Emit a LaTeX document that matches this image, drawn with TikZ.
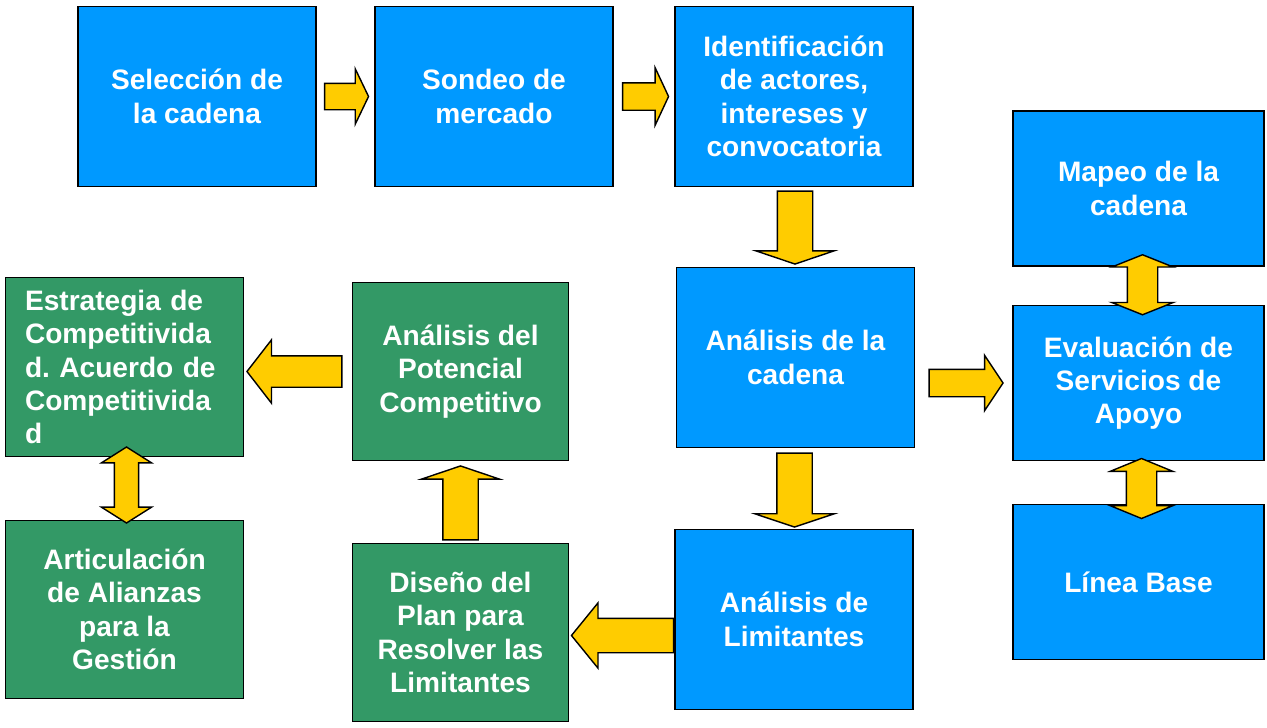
\documentclass[tikz,border=0pt]{standalone}
\usepackage{fontspec}
\setmainfont{Liberation Sans}
\usepackage{tikz}
\usetikzlibrary{calc}
\usetikzlibrary{shapes}
\usetikzlibrary{shapes.arrows}

\definecolor{boxblue}{HTML}{0099FF}
\definecolor{boxgreen}{HTML}{339966}
\definecolor{arrowyellow}{HTML}{FFCC00}

\begin{document}
\begin{tikzpicture}[x=0.02cm, y=-0.02cm,
        node_style/.style={rectangle,draw=black,line width=1pt,text=white,align=center,inner sep=0pt,font=\fontsize{16}{19}\selectfont\bfseries},
        blue_node_style/.style={node_style,fill=boxblue,minimum width=4.76cm,minimum height=3.6cm},
        wide_node_style/.style={node_style,fill=boxblue,minimum width=5.02cm,minimum height=3.1cm},
        green_node_style/.style={node_style,fill=boxgreen,minimum width=4.32cm,minimum height=3.56cm},
        arrow_style/.style n args={4}{single arrow,draw=black,fill=arrowyellow,line width=0.8pt,inner xsep=0pt,inner ysep=#2,text height=0pt,text depth=0pt,minimum width=0pt,minimum height=#1,single arrow head extend=#3,single arrow tip angle=#4,anchor=tail},
        double_arrow_style/.style n args={4}{double arrow,draw=black,fill=arrowyellow,line width=0.8pt,inner xsep=0pt,inner ysep=#2,text height=0pt,text depth=0pt,minimum width=0pt,minimum height=#1,double arrow head extend=#3,double arrow tip angle=#4,rotate=90}]

        \useasboundingbox (0,0) rectangle (1267,727);

        \node [blue_node_style](n1) at (197,96.5) {Selección de\\la cadena};

        \node [blue_node_style](n2) at (494,96.5) {Sondeo de\\mercado};

        \node [blue_node_style](n3) at (794,96.5) {Identificación\\de actores,\\intereses y\\convocatoria};

        \node [wide_node_style](n4) at (1138.5,188.5) {Mapeo de la\\cadena};

        \node [blue_node_style](n5) at (795.5,357.5) {Análisis de la\\cadena};

        \node [wide_node_style](n6) at (1138.5,383) {Evaluación de\\Servicios de\\Apoyo};

        \node [wide_node_style](n7) at (1138.5,582) {Línea Base};

        \node [blue_node_style](n8) at (794,619.5) {Análisis de\\Limitantes};

        \node [green_node_style](n9) at (460.5,632.5) {Diseño del\\Plan para\\Resolver las\\Limitantes};

        \node [green_node_style](n10) at (460.5,371.5) {Análisis del\\Potencial\\Competitivo};

        \node [green_node_style,minimum width=4.76cm,minimum height=3.58cm,text width=3.98cm,align=left](n11) at (124.5,367) {Estrategia de\\Competitivida\\d.\ Acuerdo de\\Competitivida\\d};

        \node [green_node_style,minimum width=4.76cm](n12) at (124.5,609.5) {Articulación\\de Alianzas\\para la\\Gestión};

        \node [arrow_style={0.88cm}{0.25cm}{0.29cm}{128.6}](a1) at ($(n1.east)+(7,0)$) {};

        \node [arrow_style={0.92cm}{0.26cm}{0.30cm}{130}](a2) at ($(n2.east)+(8,0)$) {};

        \node [arrow_style={1.46cm}{0.34cm}{0.43cm}{142.7},rotate=-90](a3) at ($(n3.south)+(1,3)$) {};

        \node [arrow_style={1.48cm}{0.34cm}{0.44cm}{143},rotate=-90](a4) at ($(n5.south)+(-1,4)$) {};

        \node [arrow_style={1.48cm}{0.26cm}{0.28cm}{112.6}](a5) at ($(n5.east |- n6)+(13,0)$) {};

        \node [arrow_style={2.04cm}{0.33cm}{0.31cm}{101.8},rotate=180](a8) at ($(n8.west)+(0,16)$) {};

        \node [arrow_style={1.48cm}{0.34cm}{0.43cm}{142.7},rotate=90](a9) at ($(n9.north)+(0,-2)$) {};

        \node [arrow_style={1.90cm}{0.30cm}{0.32cm}{104.5},rotate=180](a10) at ($(n10.west)+(-9,0)$) {};

        \node [double_arrow_style={1.20cm}{0.29cm}{0.31cm}{136.4}](a6) at ($(n4.south)!0.5!(n6.north)+(4,-1)$) {};

        \node [double_arrow_style={1.20cm}{0.29cm}{0.32cm}{135.4}](a7) at ($(n6.south)!0.5!(n7.north)+(3,6)$) {};

        \node [double_arrow_style={1.52cm}{0.23cm}{0.26cm}{115.4}](a11) at ($(n11.south)!0.5!(n12.north)+(2,-3.5)$) {};

        \end{tikzpicture}
\end{document}
